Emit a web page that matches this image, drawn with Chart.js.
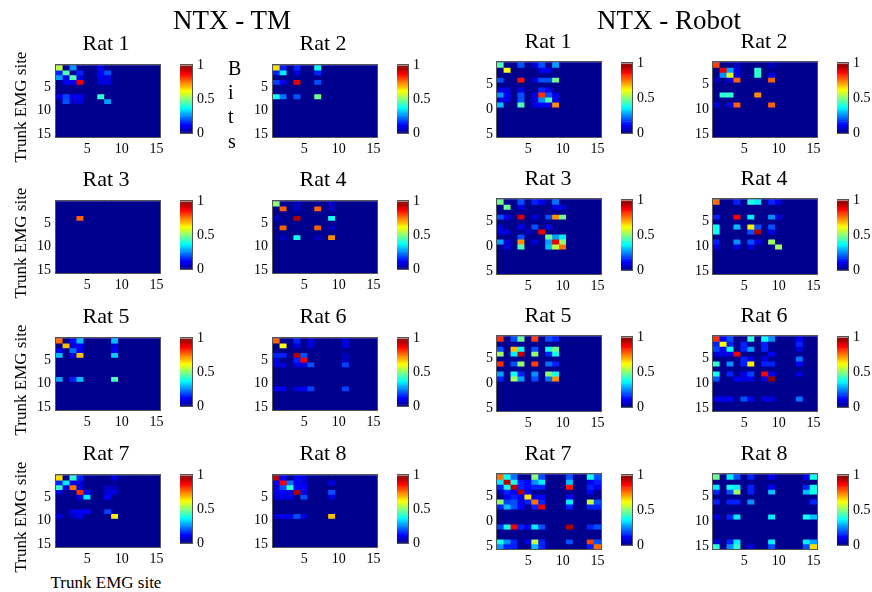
<!DOCTYPE html>
<html><head><meta charset="utf-8">
<script src="https://cdn.jsdelivr.net/npm/chart.js@4"></script>
<style>
html,body{margin:0;padding:0;background:#fff;}
body{width:872px;height:592px;position:relative;overflow:hidden;font-family:"Liberation Serif","Times New Roman",serif;}
canvas{position:absolute;}
.t{position:absolute;white-space:nowrap;line-height:1;color:#000;font-family:"Liberation Serif","Times New Roman",serif;}
</style></head><body>
<script>
// ---------- DATA ----------
const sites = [1,2,3,4,5,6,7,8,9,10,11,12,13,14,15];
const axisTicks = [5,10,15];
const cbarTicks = [0,0.5,1];
const cbarLabels = ['0','0.5','1'];
const groupTitles = ['NTX - TM','NTX - Robot'];
const ratTitles = ['Rat 1','Rat 2','Rat 3','Rat 4','Rat 5','Rat 6','Rat 7','Rat 8'];
const axisLabel = 'Trunk EMG site';
const cbarLetters = ['B','i','t','s'];

// cells: [row, column, bits]; unlisted cells are 0
const tmRat1 = [[1,1,.55],[1,3,.25],[1,7,.12],
 [2,1,.15],[2,2,.45],[2,4,.15],[2,7,.12],[2,8,.2],
 [3,1,.28],[3,2,.1],[3,3,.45],[3,4,.08],[3,7,.1],[3,8,.08],
 [4,2,.1],[4,3,.1],[4,4,.88],[4,7,.08],[4,8,.08],
 [7,1,.08],[7,2,.18],[7,3,.08],[7,4,.1],[7,7,.42],
 [8,2,.2],[8,3,.06],[8,4,.08],[8,8,.28]];
const tmRat2 = [[1,1,.65],[1,2,.15],[1,4,.15],[1,7,.38],
 [2,1,.15],[2,2,.35],[2,4,.08],[2,7,.15],
 [4,1,.18],[4,2,.1],[4,4,.88],[4,7,.2],
 [7,1,.38],[7,2,.22],[7,4,.2],[7,7,.48]];
const tmRat3 = [[4,4,.78]];
const tmRat4 = [[1,1,.5],[1,4,.06],[1,9,.06],
 [2,2,.78],[2,4,.06],[2,7,.78],[2,9,.06],
 [4,1,.06],[4,4,.95],[4,9,.38],
 [6,2,.78],[6,7,.78],[6,9,.06],
 [8,2,.06],[8,4,.38],[8,7,.06],[8,9,.72]];
const tmRat5 = [[1,1,.75],[1,3,.12],[1,4,.3],[1,9,.3],
 [2,2,.68],[2,3,.08],[2,4,.12],[2,9,.08],
 [3,1,.12],[3,3,.22],[3,4,.1],[3,9,.12],
 [4,1,.3],[4,3,.08],[4,4,.68],[4,9,.32],
 [9,1,.28],[9,3,.15],[9,4,.3],[9,9,.45]];
const tmRat6 = [[1,1,.77],[1,4,.15],[1,6,.08],[1,11,.08],
 [2,2,.62],[2,4,.08],[2,6,.08],[2,11,.08],
 [4,1,.15],[4,2,.15],[4,4,.95],[4,5,.2],[4,11,.06],
 [5,1,.08],[5,4,.15],[5,5,.87],[5,11,.06],
 [6,1,.08],[6,2,.08],[6,4,.08],[6,5,.08],[6,6,.2],[6,11,.18],
 [11,1,.1],[11,2,.1],[11,4,.08],[11,5,.1],[11,6,.18],[11,11,.18]];
const tmRat7 = [[1,1,.65],[1,3,.42],[1,4,.15],[1,9,.08],
 [2,1,.15],[2,2,.35],[2,3,.08],[2,4,.08],
 [3,1,.42],[3,2,.08],[3,3,.75],[3,4,.08],[3,8,.06],[3,9,.06],
 [4,1,.08],[4,4,.82],[4,5,.12],[4,8,.08],[4,9,.08],
 [5,4,.08],[5,5,.35],[5,8,.12],
 [8,3,.1],[8,4,.1],[8,5,.12],[8,8,.18],
 [9,1,.08],[9,3,.06],[9,4,.1],[9,9,.63]];
const tmRat8 = [[1,1,.93],[1,2,.12],[1,4,.12],[1,5,.08],
 [2,1,.12],[2,2,.87],[2,3,.22],[2,4,.1],[2,5,.08],[2,9,.08],
 [3,1,.08],[3,2,.2],[3,3,.42],[3,4,.12],[3,5,.12],
 [4,1,.08],[4,2,.12],[4,3,.08],[4,4,.95],[4,5,.08],[4,9,.2],
 [5,1,.08],[5,2,.08],[5,3,.1],[5,5,.2],[5,9,.08],
 [9,1,.08],[9,2,.1],[9,3,.1],[9,4,.2],[9,5,.08],[9,9,.68]];

const robotRat1 = [[1,1,.45],[1,4,.2],[1,6,.08],[1,7,.2],[1,9,.28],
 [2,2,.62],[2,7,.1],[2,8,.1],
 [4,1,.2],[4,4,.85],[4,6,.08],[4,7,.2],[4,8,.2],[4,9,.48],
 [6,1,.1],[6,2,.08],[6,4,.08],[6,7,.15],[6,8,.1],
 [7,1,.25],[7,2,.12],[7,4,.2],[7,6,.08],[7,7,.82],[7,8,.2],[7,9,.1],
 [8,1,.08],[8,2,.08],[8,4,.2],[8,6,.08],[8,7,.25],[8,8,.45],[8,9,.08],
 [9,1,.3],[9,4,.45],[9,6,.08],[9,7,.12],[9,8,.12],[9,9,.72]];
const robotRat2 = [[1,1,.8],[1,4,.06],[1,9,.06],
 [2,2,.88],[2,3,.28],[2,4,.08],[2,7,.42],
 [3,2,.25],[3,3,.58],[3,4,.08],[3,7,.42],[3,9,.08],
 [4,1,.06],[4,3,.08],[4,4,.77],[4,9,.77],
 [7,2,.42],[7,3,.42],[7,7,.72],
 [9,1,.08],[9,3,.08],[9,4,.77],[9,9,.77]];
const robotRat3 = [[1,1,.48],[1,4,.2],[1,6,.15],[1,7,.1],[1,9,.22],
 [2,2,.48],[2,4,.08],[2,9,.08],[2,10,.08],
 [4,1,.2],[4,2,.1],[4,4,.9],[4,6,.08],[4,8,.2],[4,9,.72],[4,10,.48],
 [6,1,.08],[6,4,.1],[6,6,.2],[6,8,.1],
 [7,1,.08],[7,2,.08],[7,5,.06],[7,7,.88],
 [8,4,.2],[8,8,.48],[8,9,.28],[8,10,.35],
 [9,1,.28],[9,2,.08],[9,4,.72],[9,6,.08],[9,8,.28],[9,9,.88],[9,10,.5],
 [10,2,.08],[10,4,.45],[10,8,.3],[10,9,.55],[10,10,.75]];
const robotRat4 = [[1,1,.75],[1,4,.15],[1,6,.4],[1,7,.35],[1,9,.15],[1,10,.08],
 [4,1,.15],[4,4,.87],[4,6,.35],[4,9,.25],[4,10,.08],
 [6,1,.38],[6,4,.3],[6,6,.63],[6,7,.2],[6,9,.2],
 [7,1,.38],[7,6,.2],[7,7,.95],[7,9,.08],
 [9,1,.15],[9,4,.25],[9,6,.2],[9,7,.08],[9,9,.52],
 [10,1,.08],[10,4,.08],[10,6,.08],[10,10,.52]];
const robotRat5 = [[1,1,.82],[1,3,.2],[1,4,.48],[1,6,.8],[1,8,.2],[1,9,.15],
 [3,1,.2],[3,3,.68],[3,4,.38],[3,6,.2],[3,8,.38],[3,9,.48],
 [4,1,.52],[4,3,.35],[4,4,.93],[4,6,.5],[4,8,.15],[4,9,.38],
 [6,1,.82],[6,3,.2],[6,4,.5],[6,6,.8],[6,8,.22],[6,9,.15],
 [8,1,.28],[8,3,.38],[8,4,.15],[8,6,.25],[8,8,.5],[8,9,.38],
 [9,1,.15],[9,3,.52],[9,4,.28],[9,6,.2],[9,8,.22],[9,9,.72]];
const robotRat6 = [[1,1,.82],[1,2,.1],[1,3,.2],[1,6,.42],[1,8,.38],[1,9,.25],[1,13,.1],
 [2,1,.15],[2,2,.62],[2,3,.15],[2,5,.15],[2,8,.15],[2,13,.15],
 [3,1,.18],[3,2,.12],[3,3,.38],[3,5,.15],[3,6,.28],[3,8,.15],[3,13,.08],
 [4,1,.08],[4,2,.08],[4,3,.1],[4,4,.86],[4,9,.12],
 [5,5,.15],[5,6,.08],[5,8,.08],[5,13,.22],
 [6,1,.42],[6,3,.25],[6,5,.15],[6,6,.63],[6,8,.15],[6,9,.15],[6,13,.1],
 [8,1,.38],[8,3,.15],[8,5,.1],[8,6,.18],[8,8,.87],[8,9,.1],[8,13,.08],
 [9,1,.2],[9,4,.1],[9,5,.08],[9,6,.1],[9,8,.1],[9,9,.97],
 [13,1,.1],[13,2,.1],[13,3,.12],[13,5,.2],[13,6,.1],[13,8,.08],[13,9,.08],[13,13,.22]];
const robotRat7 = [[1,1,.75],[1,2,.38],[1,3,.22],[1,6,.5],[1,7,.2],[1,11,.2],[1,14,.38],[1,15,.2],
 [2,1,.35],[2,2,.93],[2,3,.38],[2,4,.15],[2,5,.12],[2,6,.25],[2,7,.35],[2,11,.3],[2,14,.1],[2,15,.15],
 [3,1,.15],[3,2,.38],[3,3,.93],[3,4,.15],[3,5,.12],[3,6,.15],[3,7,.15],[3,11,.85],[3,14,.15],[3,15,.1],
 [4,1,.06],[4,2,.15],[4,3,.12],[4,4,.95],[4,5,.12],[4,14,.12],
 [5,2,.1],[5,3,.15],[5,4,.12],[5,5,.65],[5,6,.08],[5,7,.12],[5,11,.1],
 [6,1,.5],[6,2,.18],[6,3,.2],[6,4,.08],[6,5,.15],[6,6,.75],[6,7,.15],[6,11,.35],[6,14,.55],[6,15,.2],
 [7,1,.15],[7,2,.3],[7,3,.2],[7,4,.12],[7,6,.15],[7,7,.88],[7,11,.15],[7,14,.15],[7,15,.15],
 [11,1,.18],[11,2,.38],[11,3,.87],[11,4,.15],[11,5,.1],[11,6,.35],[11,7,.2],[11,11,.95],[11,14,.15],[11,15,.2],
 [14,1,.38],[14,2,.25],[14,3,.15],[14,5,.1],[14,6,.55],[14,7,.15],[14,11,.2],[14,14,.8],[14,15,.2],
 [15,1,.25],[15,2,.15],[15,3,.15],[15,6,.3],[15,7,.15],[15,14,.15],[15,15,.75]];
const robotRat8 = [[1,1,.48],[1,3,.35],[1,4,.2],[1,6,.15],[1,9,.1],[1,14,.1],[1,15,.38],
 [3,1,.35],[3,3,.38],[3,4,.35],[3,6,.15],[3,9,.1],[3,14,.15],[3,15,.38],
 [4,1,.15],[4,3,.2],[4,4,.52],[4,6,.15],[4,9,.3],[4,14,.3],[4,15,.38],
 [6,1,.15],[6,3,.15],[6,4,.15],[6,6,.25],[6,15,.15],
 [9,1,.08],[9,3,.15],[9,4,.35],[9,9,.35],[9,14,.38],[9,15,.3],
 [14,1,.08],[14,3,.15],[14,4,.35],[14,9,.35],[14,14,.35],[14,15,.28],
 [15,1,.42],[15,3,.25],[15,4,.42],[15,6,.08],[15,9,.2],[15,14,.2],[15,15,.65]];

const tmPanels = [tmRat1,tmRat2,tmRat3,tmRat4,tmRat5,tmRat6,tmRat7,tmRat8];
const robotPanels = [robotRat1,robotRat2,robotRat3,robotRat4,robotRat5,robotRat6,robotRat7,robotRat8];

// ---------- COLOUR MAP (MATLAB jet, 64 levels) ----------
function jet64(k){
  const x = k + 1;
  const c = v => Math.round(255 * Math.max(0, Math.min(1, v)));
  return 'rgb(' + c(Math.min((x-24)/16,(72-x)/16)) + ',' + c(Math.min((x-8)/16,(56-x)/16)) + ',' + c(Math.min((x+8)/16,(40-x)/16)) + ')';
}
function jet(v){ return jet64(Math.min(63, Math.max(0, Math.floor(v*64)))); }
const cmapLevels = Array.from({length:64}, (_, k) => k);

// ---------- LAYOUT ----------
const FONT = "'Liberation Serif','Times New Roman',serif";
const tickFont = {family: FONT, size: 14};
const cols = [
  {mx:56,  cbx:180, cbw:12, yw:30, ypad:5},
  {mx:273, cbx:397, cbw:11, yw:30, ypad:5},
  {mx:497, cbx:621, cbw:11, yw:11, ypad:4},
  {mx:713, cbx:837, cbw:11, yw:30, ypad:4}
];
const MW = 104;
const tmTops = [62,198,335,472], tmH = 75;
const robotTops = [60,197,334,472], robotH = 77;

const bgPlugin = {
  id: 'bg',
  beforeDatasetsDraw(chart){
    const a = chart.chartArea, ctx = chart.ctx;
    ctx.save(); ctx.fillStyle = jet(0); ctx.fillRect(a.left, a.top, a.right-a.left, a.bottom-a.top); ctx.restore();
  }
};
const boxPlugin = {
  id: 'box',
  afterDraw(chart){
    const a = chart.chartArea, ctx = chart.ctx;
    ctx.save(); ctx.strokeStyle = '#555'; ctx.lineWidth = 1;
    ctx.strokeRect(Math.round(a.left)-0.5, Math.round(a.top)-0.5, Math.round(a.right-a.left)+1, Math.round(a.bottom-a.top)+1);
    ctx.restore();
  }
};

function addCanvas(x, y, w, h){
  const cv = document.createElement('canvas');
  cv.width = w; cv.height = h;
  cv.style.left = x + 'px'; cv.style.top = y + 'px';
  cv.style.width = w + 'px'; cv.style.height = h + 'px';
  document.body.appendChild(cv);
  return cv;
}

function makeMatrix(cells, col, top, h){
  const padTop = 10, padRight = 14, xh = 22;
  const cv = addCanvas(col.mx - col.yw, top - padTop, col.yw + MW + padRight, padTop + h + xh);
  const val = {};
  cells.forEach(([r,c,v]) => { val[r + '_' + c] = v; });
  const datasets = sites.map(r => ({
    data: sites.map(() => [r - 0.5, r + 0.5]),
    backgroundColor: sites.map(c => jet(val[r + '_' + c] || 0)),
    borderWidth: 0, barPercentage: 1, categoryPercentage: 1, grouped: false
  }));
  new Chart(cv, {
    type: 'bar',
    data: {labels: sites.map(String), datasets},
    options: {
      responsive: false, animation: false, events: [],
      layout: {padding: {top: padTop, right: padRight, left: 0, bottom: 0}},
      plugins: {legend: {display: false}, tooltip: {enabled: false}, title: {display: false}},
      scales: {
        x: {
          grid: {display: false, drawTicks: false}, border: {display: false},
          ticks: {autoSkip: false, maxRotation: 0, minRotation: 0, padding: 4, color: '#000', font: tickFont,
            callback: (v, i) => axisTicks.includes(sites[i]) ? String(sites[i]) : ''},
          afterFit: s => { s.height = xh; }
        },
        y: {
          min: 0.5, max: 15.5, reverse: true,
          grid: {display: false, drawTicks: false}, border: {display: false},
          afterBuildTicks: s => { s.ticks = axisTicks.map(v => ({value: v})); },
          ticks: {padding: col.ypad, color: '#000', font: tickFont, callback: v => String(v)},
          afterFit: s => { s.width = col.yw; }
        }
      }
    },
    plugins: [bgPlugin, boxPlugin]
  });
}

function makeCbar(col, top, h){
  const pad = 10, labelW = 40;
  const cv = addCanvas(col.cbx, top - pad, col.cbw + labelW, h + 2*pad);
  const datasets = cmapLevels.map(k => ({
    data: [[k/64, (k+1)/64]], backgroundColor: jet64(k),
    borderWidth: 0, barPercentage: 1, categoryPercentage: 1, grouped: false
  }));
  new Chart(cv, {
    type: 'bar',
    data: {labels: [''], datasets},
    options: {
      responsive: false, animation: false, events: [],
      layout: {padding: {top: pad, bottom: pad, left: 0, right: 0}},
      plugins: {legend: {display: false}, tooltip: {enabled: false}},
      scales: {
        x: {display: false},
        y: {
          position: 'right', min: 0, max: 1,
          grid: {display: false, drawTicks: false}, border: {display: false},
          afterBuildTicks: s => { s.ticks = cbarTicks.map(v => ({value: v})); },
          ticks: {padding: 5, color: '#000', font: tickFont, callback: v => cbarLabels[cbarTicks.indexOf(v)]},
          afterFit: s => { s.width = labelW; }
        }
      }
    },
    plugins: [boxPlugin]
  });
}

function addText(txt, size, cx, baseline, align){
  const d = document.createElement('div');
  d.className = 't';
  d.textContent = txt;
  d.style.fontSize = size + 'px';
  d.style.top = (baseline - 0.8375*size) + 'px';
  d.style.left = cx + 'px';
  if (align !== 'left') d.style.transform = 'translateX(-50%)';
  document.body.appendChild(d);
  return d;
}

// ---------- BUILD ----------
for (let i = 0; i < 8; i++) {
  const row = Math.floor(i / 2), c = i % 2;
  const tc = cols[c];
  makeMatrix(tmPanels[i], tc, tmTops[row], tmH);
  makeCbar(tc, tmTops[row], tmH);
  addText(ratTitles[i], 22, tc.mx + MW/2 - 2, tmTops[row] - 12);
  const rc = cols[c + 2];
  makeMatrix(robotPanels[i], rc, robotTops[row], robotH);
  makeCbar(rc, robotTops[row], robotH);
  addText(ratTitles[i], 22, rc.mx + MW/2 - 1, robotTops[row] - 12);
}

addText(groupTitles[0], 27, 232, 30);
addText(groupTitles[1], 27, 669, 30);

const bitsBase = [75, 99, 123, 148];
cbarLetters.forEach((ch, i) => addText(ch, 20, 228, bitsBase[i], 'left'));

tmTops.forEach(t => {
  const d = document.createElement('div');
  d.className = 't';
  d.textContent = axisLabel;
  d.style.fontSize = '17px';
  d.style.left = '20px';
  d.style.top = (t + tmH/2 + 7) + 'px';
  d.style.transform = 'translate(-50%,-50%) rotate(-90deg)';
  document.body.appendChild(d);
});
addText(axisLabel, 17, 106, 588);
</script>
</body></html>
